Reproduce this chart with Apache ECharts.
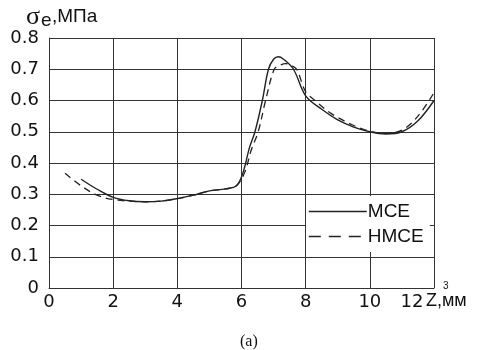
<!DOCTYPE html>
<html>
<head>
<meta charset="utf-8">
<script src="https://cdn.jsdelivr.net/npm/echarts@6/dist/echarts.min.js"></script>
<style>
  html, body { margin: 0; padding: 0; background: #fff; }
  #chart { width: 493px; height: 350px; }
</style>
</head>
<body>
<div id="chart"></div>
<script>
// МСЕ (solid)
const mceZ = [1.0, 1.5, 2.0, 2.5, 3.0, 3.5, 4.0, 4.5, 5.0, 5.5, 5.85, 6.05, 6.25, 6.42, 6.65, 6.84, 7.0, 7.15, 7.3, 7.62, 8.0, 8.5, 9.0, 9.5, 10.0, 10.5, 11.0, 11.5, 12.0];
const mceS = [0.348, 0.316, 0.29, 0.279, 0.276, 0.278, 0.286, 0.297, 0.311, 0.317, 0.328, 0.37, 0.45, 0.5, 0.6, 0.7, 0.732, 0.74, 0.733, 0.7, 0.615, 0.572, 0.538, 0.515, 0.5, 0.493, 0.5, 0.535, 0.6];
// НМСЕ (dashed)
const hmceZ = [0.5, 1.0, 1.5, 2.0, 2.5, 3.0, 3.5, 4.0, 4.5, 5.0, 5.5, 5.85, 6.1, 6.3, 6.52, 6.75, 7.02, 7.2, 7.38, 7.55, 7.72, 8.0, 8.29, 8.8, 9.5, 10.0, 10.5, 11.0, 11.5, 12.0];
const hmceS = [0.367, 0.327, 0.297, 0.283, 0.278, 0.276, 0.278, 0.286, 0.297, 0.311, 0.317, 0.328, 0.37, 0.44, 0.5, 0.6, 0.7, 0.713, 0.718, 0.712, 0.7, 0.628, 0.6, 0.558, 0.52, 0.502, 0.495, 0.505, 0.55, 0.625];

const seriesNames = ['МСЕ', 'НМСЕ'];
const xTicks = [0, 2, 4, 6, 8, 10, 12];

const pairs = (xs, ys) => xs.map((x, i) => [x, ys[i]]);

const chart = echarts.init(document.getElementById('chart'));

const lineColor = '#222';
const gridColor = '#333';
const tickFont = { fontFamily: 'DejaVu Sans', fontSize: 18, color: '#111' };

chart.setOption({
  animation: false,
  backgroundColor: '#fff',
  grid: { left: 49, right: 59, top: 38, bottom: 62 },
  xAxis: {
    type: 'value',
    min: 0,
    max: 12,
    interval: 2,
    axisLine: { show: true, lineStyle: { color: gridColor, width: 1 } },
    axisTick: { show: false },
    splitLine: { show: true, lineStyle: { color: gridColor, width: 1 } },
    axisLabel: {
      ...tickFont,
      margin: 5,
      formatter: v => (v === xTicks[xTicks.length - 1] ? '{last|' + v + '}' : String(v)),
      rich: { last: { ...tickFont, padding: [0, 44, 0, 0] } }
    }
  },
  yAxis: {
    type: 'value',
    min: 0,
    max: 0.8,
    interval: 0.1,
    axisLine: { show: true, lineStyle: { color: gridColor, width: 1 } },
    axisTick: { show: false },
    splitLine: { show: true, lineStyle: { color: gridColor, width: 1 } },
    axisLabel: {
      ...tickFont,
      margin: 10,
      formatter: v => (v === 0 ? '0' : v.toFixed(1))
    }
  },
  legend: {
    orient: 'vertical',
    left: 306,
    top: 196,
    itemWidth: 58,
    itemHeight: 10,
    itemGap: 6,
    padding: [6, 6, 6, 2],
    backgroundColor: '#fff',
    itemStyle: { color: 'transparent', borderWidth: 0 },
    textStyle: { fontFamily: 'Liberation Sans', fontSize: 19, color: '#111', padding: [0, 0, 0, -4] },
    data: [
      { name: seriesNames[0], lineStyle: { width: 1.6 } },
      { name: seriesNames[1], lineStyle: { width: 1.6, type: [12, 8] } }
    ]
  },
  series: [
    {
      name: seriesNames[0],
      type: 'line',
      smooth: 0.35,
      symbol: 'none',
      lineStyle: { color: lineColor, width: 1.4, type: 'solid' },
      itemStyle: { color: lineColor },
      data: pairs(mceZ, mceS)
    },
    {
      name: seriesNames[1],
      type: 'line',
      smooth: 0.35,
      symbol: 'none',
      lineStyle: { color: lineColor, width: 1.3, type: [7, 5] },
      itemStyle: { color: lineColor },
      data: pairs(hmceZ, hmceS)
    }
  ],
  graphic: [
    { type: 'text', left: 26, top: 4, style: { text: 'σ', font: '26px "Liberation Serif"', fill: '#111' } },
    { type: 'text', left: 41, top: 11, style: { text: 'e', font: '19px "Liberation Sans"', fill: '#111' } },
    { type: 'text', left: 52, top: 7, style: { text: ',МПа', font: '19px "Liberation Sans"', fill: '#111' } },
    { type: 'text', left: 426, top: 292, style: { text: 'Z,мм', font: '18px "Liberation Sans"', fill: '#111' } },
    { type: 'text', left: 443, top: 281, style: { text: '3', font: '10px "Liberation Sans"', fill: '#111' } },
    { type: 'text', left: 240, top: 334, style: { text: '(a)', font: '16px "Liberation Serif"', fill: '#111' } }
  ]
});
</script>
</body>
</html>
